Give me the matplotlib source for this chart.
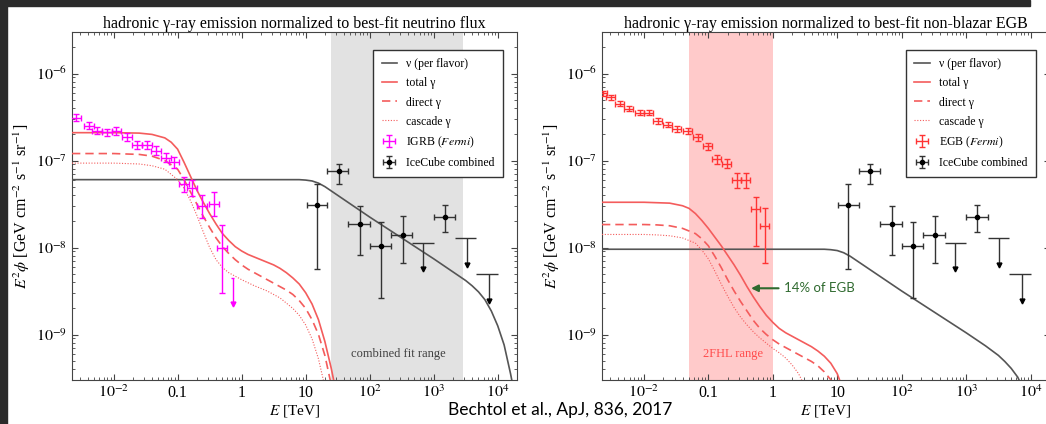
import matplotlib
matplotlib.use('Agg')
import matplotlib.pyplot as plt
from matplotlib.patches import Rectangle

plt.rcParams['font.family'] = ['Liberation Serif', 'DejaVu Serif']
plt.rcParams['mathtext.fontset'] = 'stix'

# ---- data ----
# model curves as log10(E / TeV) and log10(E^2 phi / GeV cm-2 s-1 sr-1)
# left panel: normalized to best-fit neutrino flux
nu1_logE = [-2.65, 0.9, 1.0, 1.1, 1.2, 1.3, 1.4, 1.5, 1.7, 2.0, 2.5, 3.0, 3.3, 3.5, 3.6, 3.7, 3.8, 3.9, 4.0, 4.1, 4.2, 4.24]
nu1_logF = [-7.22, -7.22, -7.225, -7.235, -7.26, -7.30, -7.35, -7.40, -7.50, -7.65, -7.89, -8.13, -8.28, -8.38, -8.44, -8.51, -8.60, -8.73, -8.90, -9.12, -9.45, -9.6]
tot1_logE = [-2.65, -2.0, -1.6, -1.4, -1.2, -1.1, -1.0, -0.9, -0.8, -0.7, -0.6, -0.5, -0.4, -0.3, -0.2, -0.1, 0.0, 0.1, 0.2,
             0.3, 0.4, 0.5, 0.6, 0.7, 0.8, 0.9, 1.0, 1.1, 1.2, 1.3, 1.4, 1.45]
tot1_logF = [-6.68, -6.68, -6.685, -6.70, -6.74, -6.79, -6.87, -7.02, -7.18, -7.34, -7.48, -7.61, -7.73, -7.84, -7.92, -7.99, -8.04, -8.08, -8.11,
             -8.14, -8.17, -8.20, -8.24, -8.29, -8.35, -8.42, -8.52, -8.65, -8.83, -9.08, -9.39, -9.57]
dir1_logE = [-2.65, -2.0, -1.6, -1.4, -1.2, -1.0, -0.9, -0.8, -0.7, -0.6, -0.5, -0.4, -0.3, -0.2, -0.1, 0.0, 0.1, 0.2, 0.3,
             0.4, 0.5, 0.6, 0.7, 0.8, 0.9, 1.0, 1.1, 1.2, 1.3, 1.4]
dir1_logF = [-6.92, -6.92, -6.93, -6.95, -7.0, -7.10, -7.22, -7.36, -7.50, -7.64, -7.77, -7.89, -7.99, -8.07, -8.14, -8.20, -8.25, -8.29, -8.33,
             -8.37, -8.41, -8.45, -8.49, -8.54, -8.61, -8.70, -8.83, -9.0, -9.24, -9.58]
cas1_logE = [-2.65, -2.0, -1.6, -1.4, -1.2, -1.0, -0.9, -0.8, -0.7, -0.6, -0.5, -0.4, -0.3, -0.2, -0.1, 0.0, 0.2, 0.4, 0.6,
             0.8, 0.9, 1.0, 1.1, 1.2, 1.3]
cas1_logF = [-7.03, -7.03, -7.04, -7.06, -7.10, -7.22, -7.32, -7.46, -7.63, -7.82, -8.0, -8.14, -8.23, -8.29, -8.33, -8.37, -8.44, -8.50, -8.58,
             -8.70, -8.78, -8.89, -9.05, -9.28, -9.6]

# right panel: normalized to best-fit non-blazar EGB
nu2_logE = [-2.65, 0.8, 0.9, 1.0, 1.1, 1.2, 1.3, 1.4, 1.6, 2.0, 2.5, 3.0, 3.3, 3.5, 3.6, 3.7, 3.8, 3.87]
nu2_logF = [-8.02, -8.02, -8.025, -8.035, -8.06, -8.10, -8.15, -8.20, -8.30, -8.50, -8.74, -8.98, -9.13, -9.24, -9.31, -9.39, -9.49, -9.6]
tot2_logE = [-2.65, -2.0, -1.8, -1.6, -1.4, -1.3, -1.2, -1.1, -1.0, -0.9, -0.8, -0.7, -0.6, -0.5, -0.4, -0.3, -0.2, -0.1,
             0.0, 0.1, 0.2, 0.3, 0.4, 0.5, 0.6, 0.7, 0.8, 0.9, 1.0, 1.05]
tot2_logF = [-7.48, -7.48, -7.485, -7.49, -7.52, -7.55, -7.61, -7.69, -7.78, -7.88, -7.98, -8.09, -8.20, -8.32, -8.45, -8.57, -8.68, -8.78,
             -8.86, -8.93, -8.98, -9.02, -9.06, -9.10, -9.14, -9.19, -9.25, -9.33, -9.45, -9.55]
dir2_logE = [-2.65, -2.0, -1.8, -1.6, -1.4, -1.2, -1.1, -1.0, -0.9, -0.8, -0.7, -0.6, -0.5, -0.4, -0.3, -0.2, -0.1,
             0.0, 0.1, 0.2, 0.3, 0.4, 0.5, 0.6, 0.7, 0.8, 0.9, 0.95]
dir2_logF = [-7.736, -7.736, -7.74, -7.75, -7.78, -7.84, -7.90, -7.98, -8.10, -8.23, -8.37, -8.50, -8.62, -8.73, -8.84, -8.93, -9.0,
             -9.06, -9.11, -9.15, -9.19, -9.23, -9.27, -9.31, -9.36, -9.43, -9.52, -9.6]
cas2_logE = [-2.65, -2.0, -1.8, -1.6, -1.4, -1.2, -1.1, -1.0, -0.9, -0.8, -0.7, -0.6, -0.5, -0.4, -0.3, -0.2, -0.1,
             0.0, 0.1, 0.2, 0.3, 0.4, 0.5]
cas2_logF = [-7.85, -7.85, -7.855, -7.865, -7.89, -7.95, -8.03, -8.13, -8.27, -8.42, -8.56, -8.69, -8.80, -8.89, -8.97, -9.04, -9.10,
             -9.16, -9.21, -9.27, -9.35, -9.45, -9.6]

# Fermi IGRB (left), E in TeV, flux in GeV cm-2 s-1 sr-1
igrb_E = [2.55e-3, 4.06e-3, 5.42e-3, 7.78e-3, 1.11e-2, 1.60e-2, 2.29e-2, 3.28e-2, 4.53e-2, 6.49e-2, 8.65e-2, 0.124, 0.166, 0.237, 0.365, 0.487]
igrb_F = [3.1e-7, 2.5e-7, 2.2e-7, 2.1e-7, 2.2e-7, 1.85e-7, 1.5e-7, 1.5e-7, 1.3e-7, 1.08e-7, 9.5e-8, 5.3e-8, 4.8e-8, 3.0e-8, 3.2e-8, 1.0e-8]
igrb_lo = [2.85e-7, 2.3e-7, 2.0e-7, 1.9e-7, 1.98e-7, 1.66e-7, 1.35e-7, 1.34e-7, 1.15e-7, 9.5e-8, 8.2e-8, 4.4e-8, 3.9e-8, 2.2e-8, 2.3e-8, 3.0e-9]
igrb_hi = [3.4e-7, 2.75e-7, 2.42e-7, 2.32e-7, 2.45e-7, 2.06e-7, 1.67e-7, 1.68e-7, 1.47e-7, 1.23e-7, 1.1e-7, 6.4e-8, 5.9e-8, 4.0e-8, 4.4e-8, 1.8e-8]
igrb_ul_E = [0.72]
igrb_ul_F = [4.5e-9]
igrb_halfbin = 0.078  # dex

# Fermi EGB (right)
egb_E = [2.31e-3, 3.08e-3, 4.25e-3, 5.85e-3, 8.67e-3, 1.2e-2, 1.65e-2, 2.36e-2, 3.25e-2, 4.81e-2, 6.87e-2, 9.82e-2, 0.135, 0.194, 0.277, 0.381, 0.545, 0.752]
egb_F = [5.9e-7, 5.3e-7, 4.5e-7, 3.96e-7, 3.56e-7, 3.56e-7, 2.81e-7, 2.59e-7, 2.33e-7, 2.16e-7, 1.84e-7, 1.45e-7, 1.03e-7, 9.2e-8, 5.9e-8, 5.9e-8, 2.8e-8, 1.79e-8]
egb_lo = [5.5e-7, 4.95e-7, 4.2e-7, 3.7e-7, 3.3e-7, 3.3e-7, 2.6e-7, 2.4e-7, 2.15e-7, 2.0e-7, 1.68e-7, 1.32e-7, 9.2e-8, 8.2e-8, 4.8e-8, 4.8e-8, 1.05e-8, 6.7e-9]
egb_hi = [6.3e-7, 5.65e-7, 4.8e-7, 4.25e-7, 3.85e-7, 3.85e-7, 3.05e-7, 2.8e-7, 2.52e-7, 2.35e-7, 2.02e-7, 1.6e-7, 1.16e-7, 1.04e-7, 7.2e-8, 7.2e-8, 3.76e-8, 2.88e-8]
egb_halfbin = 0.07  # dex

# IceCube combined (both panels)
ic_E = [14.9, 32.8, 69.8, 149, 328, 1486]
ic_F = [3.04e-8, 7.48e-8, 1.84e-8, 1.05e-8, 1.41e-8, 2.27e-8]
ic_lo = [5.6e-9, 5.4e-8, 8.1e-9, 2.66e-9, 6.7e-9, 1.49e-8]
ic_hi = [5.44e-8, 9.2e-8, 3.0e-8, 1.94e-8, 2.33e-8, 3.1e-8]
ic_Elo = [10.4, 21.5, 46.4, 100, 215, 1000]
ic_Ehi = [21.5, 46.4, 100, 215, 464, 2150]
ic_ul_E = [673, 3281, 7230]
ic_ul_F = [1.14e-8, 1.27e-8, 4.9e-9]
ic_ul_Elo = [464, 2150, 4640]
ic_ul_Ehi = [1000, 4640, 10000]

fit_range = [25, 2900]
fhl_range = [0.05, 1.0]

xticks = [1e-2, 0.1, 1, 10, 1e2, 1e3, 1e4]
xticklabels = ['$10^{-2}$', '0.1', '1', '10', '$10^2$', '$10^3$', '$10^4$']
yticks = [1e-9, 1e-8, 1e-7, 1e-6]
yticklabels = ['$10^{-9}$', '$10^{-8}$', '$10^{-7}$', '$10^{-6}$']

RED = '#f45c5c'
GREY = '#555555'


def unlog(v):
    return [10**x for x in v]


def dex_err(x, dex):
    return [[v - v / 10**dex for v in x], [v * 10**dex - v for v in x]]


def setup_axes(ax, title):
    ax.set_xscale('log')
    ax.set_yscale('log')
    ax.set_xlim(2.24e-3, 2.0e4)
    ax.set_ylim(3.0e-10, 3.0e-6)
    ax.set_xticks(xticks)
    ax.set_xticklabels(xticklabels)
    ax.set_yticks(yticks)
    ax.set_yticklabels(yticklabels)
    ax.tick_params(which='both', direction='in', top=True, right=True, labelsize=11.5, color='#444')
    ax.tick_params(which='major', length=4)
    ax.tick_params(which='minor', length=2)
    for s in ax.spines.values():
        s.set_color('#444')
    ax.set_title(title, fontsize=11.5, pad=3)
    ax.set_xlabel('$E$ [TeV]', fontsize=11, labelpad=1)
    ax.set_ylabel(r'$E^2\phi$ [GeV cm$^{-2}$ s$^{-1}$ sr$^{-1}$]', fontsize=11.5, labelpad=3)


def draw_icecube(ax):
    xerr = [[c - l for c, l in zip(ic_E, ic_Elo)], [h - c for c, h in zip(ic_E, ic_Ehi)]]
    yerr = [[c - l for c, l in zip(ic_F, ic_lo)], [h - c for c, h in zip(ic_F, ic_hi)]]
    ax.errorbar(ic_E, ic_F, xerr=xerr, yerr=yerr, fmt='o', ms=3, color='black', ecolor='#333',
                elinewidth=1, capsize=2, zorder=5, label='IceCube combined')
    uxerr = [[c - l for c, l in zip(ic_ul_E, ic_ul_Elo)], [h2 - c for c, h2 in zip(ic_ul_E, ic_ul_Ehi)]]
    ax.errorbar(ic_ul_E, ic_ul_F, xerr=uxerr, fmt='none', ecolor='#333', elinewidth=1, capsize=0, zorder=5)
    ax.vlines(ic_ul_E, [f * 0.5 for f in ic_ul_F], ic_ul_F, color='#333', lw=1, zorder=5)
    ax.plot(ic_ul_E, [f * 0.5 for f in ic_ul_F], 'v', color='black', ms=3.5, zorder=5)


def draw_model(ax, nuE, nuF, tE, tF, dE, dF, cE, cF):
    ax.plot(unlog(nuE), unlog(nuF), color=GREY, lw=1.2, label='ν (per flavor)', zorder=3)
    ax.plot(unlog(tE), unlog(tF), color=RED, lw=1.2, label='total γ', zorder=3)
    ax.plot(unlog(dE), unlog(dF), color=RED, lw=1.2, ls=(0, (5, 3)), label='direct γ', zorder=3)
    ax.plot(unlog(cE), unlog(cF), color=RED, lw=0.8, ls=(0, (1, 1.5)), label='cascade γ', zorder=3)


def add_legend(ax):
    ax.legend(loc='upper right', bbox_to_anchor=(0.9685, 0.948), borderaxespad=0, fontsize=8.5,
              fancybox=False, framealpha=1, edgecolor='#333', handlelength=1.3, handletextpad=0.8,
              labelspacing=0.6, borderpad=0.7)


fig = plt.figure(figsize=(10.46, 4.24), dpi=100)
W, H = 1046.0, 424.0
ax1 = fig.add_axes([72 / W, 44 / H, 445 / W, 348 / H])
ax2 = fig.add_axes([602 / W, 44 / H, 448 / W, 348 / H])

# ---- left panel ----
setup_axes(ax1, 'hadronic γ-ray emission normalized to best-fit neutrino flux')
ax1.axvspan(fit_range[0], fit_range[1], color='#e2e2e2', lw=0, zorder=0)
draw_model(ax1, nu1_logE, nu1_logF, tot1_logE, tot1_logF, dir1_logE, dir1_logF, cas1_logE, cas1_logF)
yerr = [[c - l for c, l in zip(igrb_F, igrb_lo)], [h - c for c, h in zip(igrb_F, igrb_hi)]]
ax1.errorbar(igrb_E, igrb_F, xerr=dex_err(igrb_E, igrb_halfbin), yerr=yerr, fmt='none',
             ecolor='#ff00ff', elinewidth=1, capsize=2, zorder=4, label='IGRB ($\\it{Fermi}$)')
ax1.errorbar(igrb_ul_E, igrb_ul_F, xerr=dex_err(igrb_ul_E, 0.03), fmt='none', ecolor='#ff00ff',
             elinewidth=1, capsize=0, zorder=4)
ax1.vlines(igrb_ul_E, [f * 0.5 for f in igrb_ul_F], igrb_ul_F, color='#ff00ff', lw=1, zorder=4)
ax1.plot(igrb_ul_E, [f * 0.5 for f in igrb_ul_F], 'v', color='#ff00ff', ms=3.5, zorder=4)
draw_icecube(ax1)
ax1.text(280, 5.9e-10, 'combined fit range', fontsize=9, color='#404040', ha='center', va='center')
add_legend(ax1)

# ---- right panel ----
setup_axes(ax2, 'hadronic γ-ray emission normalized to best-fit non-blazar EGB')
ax2.axvspan(fhl_range[0], fhl_range[1], color='#ffcaca', lw=0, zorder=0)
draw_model(ax2, nu2_logE, nu2_logF, tot2_logE, tot2_logF, dir2_logE, dir2_logF, cas2_logE, cas2_logF)
yerr = [[c - l for c, l in zip(egb_F, egb_lo)], [h - c for c, h in zip(egb_F, egb_hi)]]
ax2.errorbar(egb_E, egb_F, xerr=dex_err(egb_E, egb_halfbin), yerr=yerr, fmt='none',
             ecolor='#ff3333', elinewidth=1, capsize=2, zorder=4, label='EGB ($\\it{Fermi}$)')
draw_icecube(ax2)
ax2.text(0.24, 5.9e-10, '2FHL range', fontsize=9, color='#ff4c4c', ha='center', va='center')
ax2.annotate('14% of EGB', xy=(0.46, 3.4e-9), xytext=(1.5, 3.4e-9), fontsize=9.5, color='#2f6a2f',
             family='Lato', ha='left', va='center',
             arrowprops=dict(arrowstyle='-|>', color='#2f6a2f', lw=1.5, mutation_scale=10,
                             shrinkA=2, shrinkB=0))
add_legend(ax2)

fig.text(560 / W, 1 - 410 / H, 'Bechtol et al., ApJ, 836, 2017', family='Lato', fontsize=12.5,
         ha='center', va='center', color='black')

# dark slide border
fig.patches.append(Rectangle((0, 1 - 6 / H), 1030 / W, 6 / H, transform=fig.transFigure,
                             color='#2b2b2b', zorder=10))
fig.patches.append(Rectangle((0, 0), 7 / W, 1, transform=fig.transFigure, color='#2b2b2b', zorder=10))

fig.savefig('out.png', dpi=100, facecolor='white')
